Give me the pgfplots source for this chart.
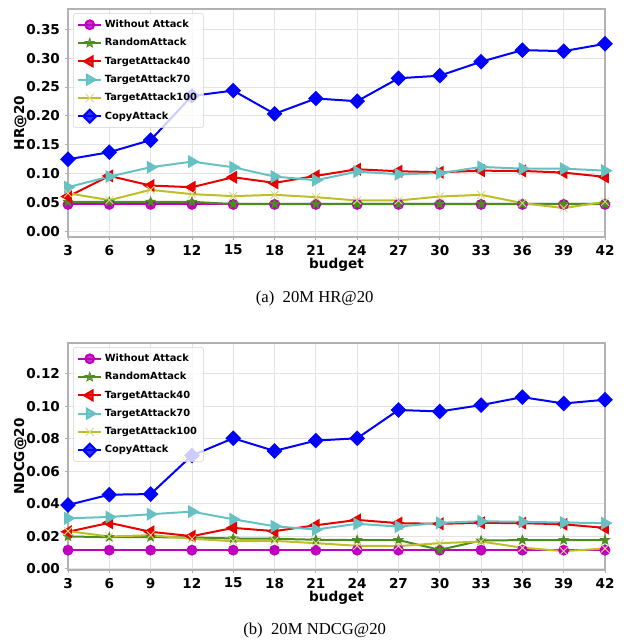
\documentclass[border=0pt]{standalone}
\usepackage{fontspec}
\setmainfont{Liberation Serif}
\newfontfamily\dejavu{DejaVu Sans}
\usepackage{pgfplots}
\pgfplotsset{compat=1.18}

\definecolor{mpurple}{RGB}{191,0,191}
\definecolor{mgreen}{RGB}{77,140,30}
\definecolor{mred}{RGB}{230,0,0}
\definecolor{mcyan}{RGB}{102,194,194}
\definecolor{myellow}{RGB}{190,190,40}
\definecolor{mblue}{RGB}{0,0,255}

% filled five-pointed star like matplotlib '*'
\pgfdeclareplotmark{fstar}{%
  \pgfpathmoveto{\pgfpointpolar{90}{\pgfplotmarksize}}%
  \pgfpathlineto{\pgfpointpolar{126}{0.42\pgfplotmarksize}}%
  \pgfpathlineto{\pgfpointpolar{162}{\pgfplotmarksize}}%
  \pgfpathlineto{\pgfpointpolar{198}{0.42\pgfplotmarksize}}%
  \pgfpathlineto{\pgfpointpolar{234}{\pgfplotmarksize}}%
  \pgfpathlineto{\pgfpointpolar{270}{0.42\pgfplotmarksize}}%
  \pgfpathlineto{\pgfpointpolar{306}{\pgfplotmarksize}}%
  \pgfpathlineto{\pgfpointpolar{342}{0.42\pgfplotmarksize}}%
  \pgfpathlineto{\pgfpointpolar{18}{\pgfplotmarksize}}%
  \pgfpathlineto{\pgfpointpolar{54}{0.42\pgfplotmarksize}}%
  \pgfpathclose\pgfusepathqfillstroke}

\pgfplotsset{
  attackaxis/.style={
    scale only axis, width=402.75pt,
    xmin=3, xmax=42, xtick={3,6,...,42},
    grid=major, major grid style={gray!22, line width=0.6pt},
    axis line style={gray!60, line width=0.8pt},
    tick align=outside, major tick length=2.5pt,
    tick style={gray!60, line width=0.6pt},
    xtick pos=bottom, ytick pos=left,
    /pgf/number format/assume math mode=true,
    ticklabel style={font=\dejavu\bfseries\fontsize{10.2}{12}\selectfont},
    label style={font=\dejavu\bfseries\fontsize{10.2}{12}\selectfont},
    yticklabel style={/pgf/number format/.cd, fixed, fixed zerofill, precision=2},
    xlabel={budget},
    xlabel style={yshift=5pt},
    ylabel style={yshift=-7pt},
    legend cell align=left,
    legend style={at={(0.0095,0.982)}, anchor=north west,
      font=\dejavu\bfseries\fontsize{7.4}{8}\selectfont,
      draw=gray!35, rounded corners=2pt, fill=white, fill opacity=0.8,
      text opacity=1, draw opacity=1, row sep=2.6pt,
      inner xsep=3pt, inner ysep=3pt},
    every axis plot/.append style={line width=1.5pt},
  },
  pwo/.style={mpurple, mark=*, mark size=3.3pt},
  pra/.style={mgreen, mark=fstar, mark size=3.7pt, mark options={line width=0.5pt}},
  pt40/.style={mred, mark=triangle*, mark size=4.2pt, mark options={rotate=90}},
  pt70/.style={mcyan, mark=triangle*, mark size=4.2pt, mark options={rotate=-90}},
  pt100/.style={myellow, mark=x, mark size=4.2pt, mark options={line width=0.7pt, myellow!60}},
  pcp/.style={mblue, mark=square*, mark size=3.4pt, mark options={rotate=45}},
}

\begin{document}
\begin{tikzpicture}
\useasboundingbox (0,0) rectangle (469.5pt,480.75pt);

\begin{axis}[attackaxis, at={(51pt,303pt)}, anchor=south west, height=171pt,
  ymin=-0.0098, ymax=0.385, ytick={0,0.05,0.10,0.15,0.20,0.25,0.30,0.35},
  ylabel={HR@20}]
\addplot[pwo] coordinates {(3,0.0466)(6,0.0466)(9,0.0466)(12,0.0466)(15,0.0466)(18,0.0466)(21,0.0466)(24,0.0466)(27,0.0466)(30,0.0466)(33,0.0466)(36,0.0466)(39,0.0466)(42,0.0466)};
\addplot[pra] coordinates {(3,0.0511)(6,0.0511)(9,0.0511)(12,0.0511)(15,0.0472)(18,0.0472)(21,0.0472)(24,0.0472)(27,0.0472)(30,0.0472)(33,0.0472)(36,0.0472)(39,0.0472)(42,0.0472)};
\addplot[pt40] coordinates {(3,0.0603)(6,0.0960)(9,0.0793)(12,0.0764)(15,0.0937)(18,0.0839)(21,0.0960)(24,0.1075)(27,0.1040)(30,0.1023)(33,0.1050)(36,0.1046)(39,0.1017)(42,0.0943)};
\addplot[pt70] coordinates {(3,0.0764)(6,0.0948)(9,0.1110)(12,0.1207)(15,0.1110)(18,0.0948)(21,0.0885)(24,0.1034)(27,0.0989)(30,0.1006)(33,0.1115)(36,0.1086)(39,0.1086)(42,0.1050)};
\addplot[pt100] coordinates {(3,0.0660)(6,0.0540)(9,0.0718)(12,0.0644)(15,0.0610)(18,0.0632)(21,0.0592)(24,0.0534)(27,0.0534)(30,0.0603)(33,0.0632)(36,0.0489)(39,0.0402)(42,0.0511)};
\addplot[pcp] coordinates {(3,0.1247)(6,0.1370)(9,0.1580)(12,0.2345)(15,0.2437)(18,0.2034)(21,0.2300)(24,0.2253)(27,0.2650)(30,0.2695)(33,0.2937)(36,0.3138)(39,0.3120)(42,0.3247)};
\legend{Without Attack, RandomAttack, TargetAttack40, TargetAttack70, TargetAttack100, CopyAttack}
\end{axis}

\begin{axis}[attackaxis, at={(51pt,53.25pt)}, anchor=south west, height=170.25pt,
  ymin=-0.0008, ymax=0.1388, ytick={0,0.02,0.04,0.06,0.08,0.10,0.12},
  ylabel={NDCG@20}]
\addplot[pwo] coordinates {(3,0.0114)(6,0.0114)(9,0.0114)(12,0.0114)(15,0.0114)(18,0.0114)(21,0.0114)(24,0.0114)(27,0.0114)(30,0.0114)(33,0.0114)(36,0.0114)(39,0.0114)(42,0.0114)};
\addplot[pra] coordinates {(3,0.0198)(6,0.0194)(9,0.0194)(12,0.0192)(15,0.0186)(18,0.0184)(21,0.0178)(24,0.0176)(27,0.0176)(30,0.0116)(33,0.0173)(36,0.0176)(39,0.0176)(42,0.0176)};
\addplot[pt40] coordinates {(3,0.0227)(6,0.0282)(9,0.0227)(12,0.0200)(15,0.0251)(18,0.0231)(21,0.0267)(24,0.0300)(27,0.0280)(30,0.0276)(33,0.0282)(36,0.0280)(39,0.0273)(42,0.0251)};
\addplot[pt70] coordinates {(3,0.0310)(6,0.0318)(9,0.0335)(12,0.0351)(15,0.0304)(18,0.0261)(21,0.0241)(24,0.0276)(27,0.0259)(30,0.0282)(33,0.0292)(36,0.0288)(39,0.0284)(42,0.0280)};
\addplot[pt100] coordinates {(3,0.0231)(6,0.0198)(9,0.0206)(12,0.0184)(15,0.0169)(18,0.0171)(21,0.0157)(24,0.0141)(27,0.0139)(30,0.0157)(33,0.0167)(36,0.0129)(39,0.0108)(42,0.0124)};
\addplot[pcp] coordinates {(3,0.0392)(6,0.0455)(9,0.0459)(12,0.0696)(15,0.0802)(18,0.0724)(21,0.0788)(24,0.0802)(27,0.0976)(30,0.0967)(33,0.1006)(36,0.1055)(39,0.1016)(42,0.1039)};
\legend{Without Attack, RandomAttack, TargetAttack40, TargetAttack70, TargetAttack100, CopyAttack}
\end{axis}

\node[font=\fontsize{12.5}{14}\selectfont] at (236pt,257.25pt) {(a)\ \ 20M HR@20};
\node[font=\fontsize{12.5}{14}\selectfont] at (236pt,8.25pt) {(b)\ \ 20M NDCG@20};
\end{tikzpicture}
\end{document}
